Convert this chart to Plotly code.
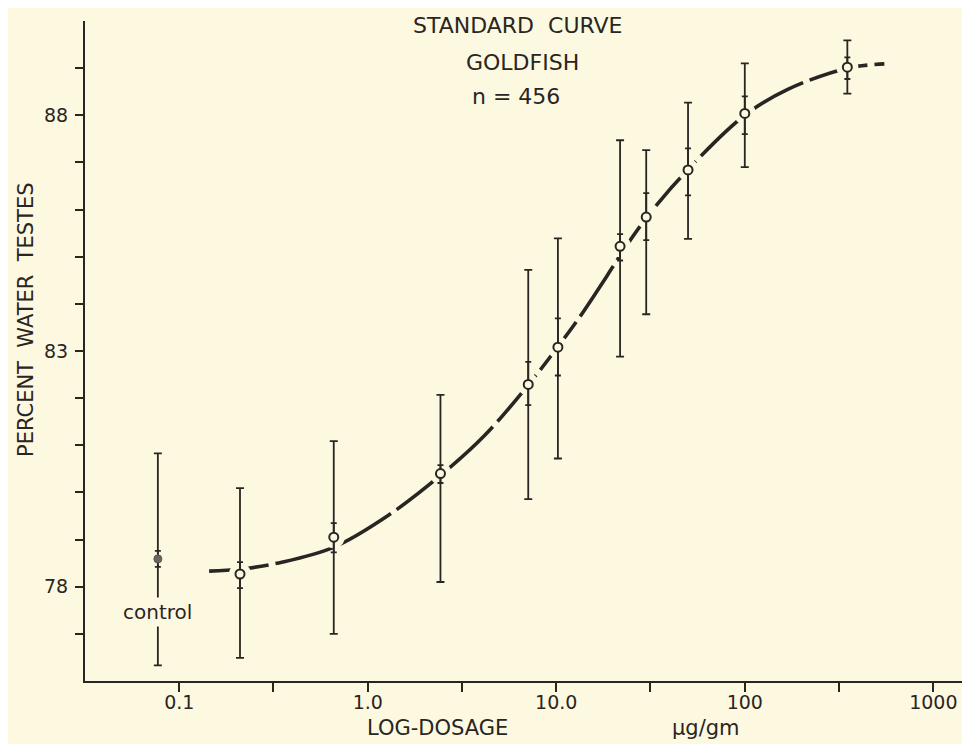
import plotly.graph_objects as go

# ---- data ----
doses = [0.21, 0.66, 2.43, 7.1, 10.2, 21.8, 30, 50, 100, 350]
means = [78.27, 79.05, 80.40, 82.29, 83.08, 85.22, 85.84, 86.84, 88.04, 89.02]
outer_hi = [80.09, 81.09, 82.07, 84.72, 85.39, 87.47, 87.26, 88.27, 89.10, 89.59]
outer_lo = [76.49, 77.00, 78.10, 79.86, 80.72, 82.88, 83.78, 85.38, 86.90, 88.46]
inner_hi = [78.52, 79.35, 80.58, 82.77, 83.69, 85.48, 86.35, 87.30, 88.40, 89.23]
inner_lo = [77.97, 78.73, 80.20, 81.85, 82.48, 84.92, 85.35, 86.30, 87.60, 88.77]

control_dose = [0.077]
control_mean = [78.59]
control_hi = [80.83]
control_lo = [76.33]
control_inner_hi = [78.76]
control_inner_lo = [78.42]

curve_x = [0.144, 0.21, 0.35, 0.66, 1.27, 2.43, 4.15, 7.1, 10.2, 13.2, 20, 24, 32.4, 50, 100, 169, 351, 550]
curve_y = [78.33, 78.37, 78.52, 78.84, 79.50, 80.36, 81.2, 82.28, 83.09, 83.70, 84.79, 85.28, 85.99, 86.85, 88.0, 88.55, 89.0, 89.09]

x_tickvals = [0.1, 0.316, 1, 3.16, 10, 31.6, 100, 316, 1000]
x_ticktext = ["0.1", "", "1.0", "", "10.0", "", "100", "", "1000"]
y_tickvals = [77, 78, 79, 80, 81, 82, 83, 84, 85, 86, 87, 88, 89]
y_ticktext = ["", "78", "", "", "", "", "83", "", "", "", "", "88", ""]

BG = "#fdf9e1"
INK = "#2a2522"
FONT = "DejaVu Sans"

L, R, T, B = 77, 7, 13, 71
PW, PH = 970 - L - R, 744 - T - B


def px_x(p):
    return (p - L) / PW


def px_y(p):
    return 1 - (p - T) / PH


def diff(a, b):
    return [x - y for x, y in zip(a, b)]


fig = go.Figure()

# fitted curve
fig.add_trace(go.Scatter(x=curve_x, y=curve_y, mode="lines", line_shape="spline",
                         line=dict(color=INK, width=3.6, dash="60px,7px"), hoverinfo="skip"))
# gaps in the curve around points
fig.add_trace(go.Scatter(x=doses, y=means, mode="markers",
                         marker=dict(size=22, color=BG, line=dict(width=0)), hoverinfo="skip"))
# outer error bars
all_x = control_dose + doses
all_m = control_mean + means
fig.add_trace(go.Scatter(x=all_x, y=all_m, mode="markers",
                         marker=dict(size=1, color="rgba(0,0,0,0)"),
                         error_y=dict(type="data", symmetric=False,
                                      array=diff(control_hi + outer_hi, all_m),
                                      arrayminus=diff(all_m, control_lo + outer_lo),
                                      color=INK, thickness=1.8, width=4)))
# inner error bars
fig.add_trace(go.Scatter(x=all_x, y=all_m, mode="markers",
                         marker=dict(size=1, color="rgba(0,0,0,0)"),
                         error_y=dict(type="data", symmetric=False,
                                      array=diff(control_inner_hi + inner_hi, all_m),
                                      arrayminus=diff(all_m, control_inner_lo + inner_lo),
                                      color=INK, thickness=1.8, width=3)))
# open circles
fig.add_trace(go.Scatter(x=doses, y=means, mode="markers",
                         marker=dict(size=9, color=BG, line=dict(color=INK, width=2))))
# control point
fig.add_trace(go.Scatter(x=control_dose, y=control_mean, mode="markers",
                         marker=dict(size=8, color="#6a6660", line=dict(color="#55514c", width=1))))

ann = []


def add_text(text, x, y, size, angle=0):
    ann.append(dict(text=text, x=x, y=y, xref="paper", yref="paper", showarrow=False,
                    xanchor="center", yanchor="middle", textangle=angle,
                    font=dict(family=FONT, size=size, color=INK)))


add_text("STANDARD  CURVE", px_x(510), px_y(18), 22)
add_text("GOLDFISH", px_x(514), px_y(55), 22)
add_text("n = 456", px_x(508), px_y(88), 22)
add_text("LOG-DOSAGE", px_x(429), px_y(720), 21)
add_text("µg/gm", px_x(698), px_y(720), 21)
add_text("PERCENT  WATER  TESTES", px_x(18), px_y(312), 21, angle=-90)

ann.append(dict(text="control", x=-1.115, y=77.47, xref="x", yref="y", showarrow=False,
                bgcolor=BG, font=dict(family=FONT, size=20, color=INK), borderpad=2))

fig.update_layout(
    width=970, height=744,
    margin=dict(l=L, r=R, t=T, b=B),
    paper_bgcolor=BG, plot_bgcolor=BG,
    showlegend=False,
    annotations=ann,
    font=dict(family=FONT, color=INK, size=18),
)
fig.update_xaxes(type="log", range=[-1.5, 3.2], tickvals=x_tickvals, ticktext=x_ticktext,
                 showgrid=False, zeroline=False, showline=True, linecolor=INK, linewidth=2,
                 ticks="outside", ticklen=9, tickwidth=1.8, tickcolor=INK,
                 ticklabelstandoff=-6,
                 tickfont=dict(family=FONT, size=19, color=INK))
fig.update_yaxes(range=[76, 90], tickvals=y_tickvals, ticktext=y_ticktext,
                 showgrid=False, zeroline=False, showline=True, linecolor=INK, linewidth=2,
                 ticks="outside", ticklen=8, tickwidth=1.8, tickcolor=INK,
                 ticklabelstandoff=3,
                 tickfont=dict(family=FONT, size=19, color=INK))

fig.write_html("out.html")
